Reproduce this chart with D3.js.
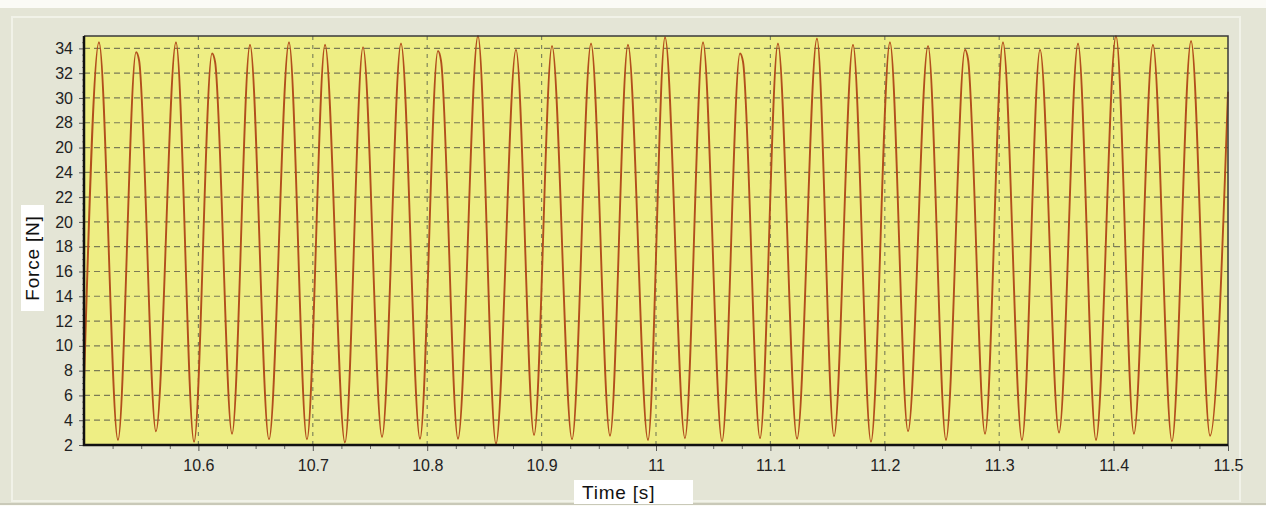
<!DOCTYPE html>
<html>
<head>
<meta charset="utf-8">
<script src="https://cdn.jsdelivr.net/npm/d3@7"></script>
<style>
  body { margin: 0; background: #fff; }
  text { font-family: "Liberation Sans", Arial, sans-serif; }
</style>
</head>
<body>
<svg id="svg" width="1266" height="506"></svg>
<script>
const svg = d3.select("#svg");

// extrema of the force signal (time in s, force in N)
const times = [
  10.5, 10.5131, 10.5297, 10.5455, 10.5482, 10.5629, 10.5804, 10.5962, 10.6119, 10.6146,
  10.6294, 10.6451, 10.6617, 10.6792, 10.6949, 10.7107, 10.7281, 10.7439, 10.7605, 10.7771,
  10.7937, 10.8094, 10.8121, 10.8269, 10.8444, 10.8601, 10.8776, 10.8934, 10.9091, 10.9266,
  10.9432, 10.9598, 10.9755, 10.9930, 11.0079, 11.0253, 11.0411, 11.0577, 11.0734, 11.0761,
  11.0909, 11.1066, 11.1233, 11.1407, 11.1556, 11.1722, 11.1879, 11.2045, 11.2203, 11.2378,
  11.2535, 11.2701, 11.2728, 11.2876, 11.3033, 11.3199, 11.3357, 11.3523, 11.3689, 11.3846,
  11.4021, 11.4178, 11.4344, 11.4510, 11.4677, 11.4843, 11.5
];
const forces = [
  6.9, 34.5, 2.4, 33.7, 33.0, 3.1, 34.5, 2.25, 33.6, 32.9,
  2.9, 34.3, 2.45, 34.5, 2.45, 34.3, 2.2, 34.1, 2.65, 34.4,
  2.5, 33.8, 33.0, 2.5, 35.0, 2.1, 33.9, 2.8, 34.2, 2.45,
  34.4, 2.75, 34.3, 2.4, 34.9, 2.55, 34.5, 2.3, 33.6, 32.9,
  2.55, 34.4, 2.5, 34.8, 2.7, 34.3, 2.25, 34.5, 3.1, 34.2,
  2.4, 33.9, 33.1, 2.9, 34.5, 2.4, 33.9, 3.0, 34.4, 2.4,
  35.0, 2.9, 34.3, 2.3, 34.6, 2.75, 30.5
];

const xTicks = [10.6, 10.7, 10.8, 10.9, 11, 11.1, 11.2, 11.3, 11.4, 11.5];
const xTickLabels = ["10.6", "10.7", "10.8", "10.9", "11", "11.1", "11.2", "11.3", "11.4", "11.5"];
const yTicks = [2, 4, 6, 8, 10, 12, 14, 16, 18, 20, 22, 24, 26, 28, 30, 32, 34];
const yTickLabels = ["2", "4", "6", "8", "10", "12", "14", "16", "18", "20", "22", "24", "20", "28", "30", "32", "34"];

const plot = { left: 84, right: 1228, top: 36, bottom: 445 };

const x = d3.scaleLinear().domain([10.5, 11.5]).range([plot.left, plot.right]);
const y = d3.scaleLinear().domain([2, 35]).range([plot.bottom, plot.top]);

// panel background
svg.append("rect").attr("width", 1266).attr("height", 506).attr("fill", "#fbfbf6");
svg.append("rect").attr("x", 0).attr("y", 8).attr("width", 1266).attr("height", 496)
  .attr("fill", "#e4e5d6");
svg.append("rect").attr("x", 12).attr("y", 17).attr("width", 1228).attr("height", 484)
  .attr("fill", "none").attr("stroke", "#f1f2e8").attr("stroke-width", 2);
svg.append("line").attr("x1", 0).attr("x2", 1266).attr("y1", 504).attr("y2", 504)
  .attr("stroke", "#c9c9b8").attr("stroke-width", 2);

// plot area
svg.append("rect")
  .attr("x", plot.left).attr("y", plot.top)
  .attr("width", plot.right - plot.left).attr("height", plot.bottom - plot.top)
  .attr("fill", "#eeee84");

// grid
svg.append("g")
  .selectAll("line")
  .data(yTicks.slice(1))
  .join("line")
  .attr("x1", plot.left).attr("x2", plot.right)
  .attr("y1", d => y(d)).attr("y2", d => y(d))
  .attr("stroke", "#7b7b55")
  .attr("stroke-width", 1.2)
  .attr("stroke-dasharray", "6,4");

svg.append("g")
  .selectAll("line")
  .data(xTicks.slice(0, -1))
  .join("line")
  .attr("x1", d => x(d)).attr("x2", d => x(d))
  .attr("y1", plot.top).attr("y2", plot.bottom)
  .attr("stroke", "#80865a")
  .attr("stroke-width", 1.2)
  .attr("stroke-dasharray", "4,5");

// signal
const line = d3.line()
  .x((d, i) => x(times[i]))
  .y(d => y(d))
  .curve(d3.curveMonotoneX);

svg.append("path")
  .datum(forces)
  .attr("fill", "none")
  .attr("stroke", "#b24e1c")
  .attr("stroke-width", 1.9)
  .attr("stroke-linejoin", "round")
  .attr("d", line);

// x axis: minor and major ticks
const xMinor = d3.range(10.525, 11.5, 0.025).filter(v => Math.abs(v * 10 - Math.round(v * 10)) > 0.01);
svg.append("g")
  .attr("transform", `translate(0,${plot.bottom})`)
  .call(d3.axisBottom(x).tickValues(xMinor).tickSize(4).tickFormat(""))
  .call(g => g.select(".domain").remove())
  .call(g => g.selectAll("line").attr("stroke", "#666"));

svg.append("g")
  .attr("transform", `translate(0,${plot.bottom})`)
  .call(d3.axisBottom(x).tickValues(xTicks).tickSize(6).tickPadding(9)
    .tickFormat((d, i) => xTickLabels[i]))
  .call(g => g.select(".domain").remove())
  .call(g => g.selectAll("line").attr("stroke", "#555"))
  .call(g => g.selectAll("text")
    .style("font-family", "'Liberation Sans', Arial, sans-serif")
    .style("font-size", "16px")
    .attr("fill", "#222"));

// y axis
const yMinor = d3.range(2.5, 34.6, 0.5).filter(v => v % 2 !== 0);
svg.append("g")
  .attr("transform", `translate(${plot.left},0)`)
  .call(d3.axisLeft(y).tickValues(yMinor).tickSize(2).tickFormat(""))
  .call(g => g.select(".domain").remove())
  .call(g => g.selectAll("line").attr("stroke", "#888"));

svg.append("g")
  .attr("transform", `translate(${plot.left},0)`)
  .call(d3.axisLeft(y).tickValues(yTicks).tickSize(5).tickPadding(6)
    .tickFormat((d, i) => yTickLabels[i]))
  .call(g => g.select(".domain").remove())
  .call(g => g.selectAll("line").attr("stroke", "#555"))
  .call(g => g.selectAll("text")
    .style("font-family", "'Liberation Sans', Arial, sans-serif")
    .style("font-size", "16px")
    .attr("fill", "#222"));

// frame
svg.append("path")
  .attr("d", `M${plot.left},${plot.top}H${plot.right}V${plot.bottom}`)
  .attr("fill", "none").attr("stroke", "#3a3a3a").attr("stroke-width", 1.5);
svg.append("path")
  .attr("d", `M${plot.left},${plot.top}V${plot.bottom}H${plot.right}`)
  .attr("fill", "none").attr("stroke", "#111").attr("stroke-width", 2.5);

// axis titles
svg.append("rect").attr("x", 21).attr("y", 205).attr("width", 23).attr("height", 106).attr("fill", "#fff");
svg.append("text")
  .attr("transform", "translate(39,258) rotate(-90)")
  .attr("text-anchor", "middle")
  .style("font-size", "19px")
  .style("letter-spacing", "0.8px")
  .attr("fill", "#111")
  .text("Force [N]");

svg.append("rect").attr("x", 574).attr("y", 480).attr("width", 119).attr("height", 24).attr("fill", "#fff");
svg.append("text")
  .attr("x", 582).attr("y", 499)
  .style("font-size", "19px")
  .style("letter-spacing", "0.8px")
  .attr("fill", "#111")
  .text("Time [s]");
</script>
</body>
</html>
